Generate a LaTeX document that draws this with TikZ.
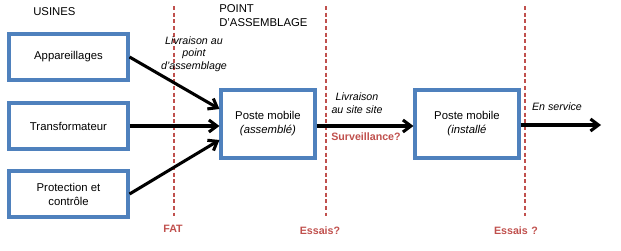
\documentclass[tikz,border=0pt]{standalone}
\usepackage{fontspec}
\setmainfont{Liberation Sans}
\usetikzlibrary{arrows.meta}
\definecolor{boxblue}{HTML}{4F81BD}
\definecolor{dashred}{HTML}{C0504D}
\begin{document}
\begin{tikzpicture}[x=0.75pt,y=-0.75pt,
  box/.style={draw=boxblue,line width=2.3pt,minimum width=119*0.75pt,minimum height=46*0.75pt,align=center,font=\fontsize{8.5pt}{10.5pt}\selectfont,inner sep=0pt},
  pbox/.style={draw=boxblue,line width=2.3pt,minimum width=94*0.75pt,minimum height=68*0.75pt,align=center,font=\fontsize{8.5pt}{10.5pt}\selectfont,inner sep=0pt},
  sep/.style={draw=dashred,line width=1.3pt,dash pattern=on 3pt off 2pt},
  flow/.style={line width=2.3pt,-{Straight Barb[length=6pt,width=9pt,line width=2.3pt]}},
  lbl/.style={font=\fontsize{8.5pt}{10.5pt}\selectfont,align=center,inner sep=0pt},
  ilbl/.style={font=\fontsize{8pt}{9.5pt}\selectfont\itshape,align=center,inner sep=0pt},
  rlbl/.style={font=\fontsize{8pt}{10pt}\selectfont\bfseries,text=dashred,inner sep=0pt}]
\useasboundingbox (0,0) rectangle (621,250);
% dashed separators
\coordinate (s1t) at (174,6); \coordinate (s1b) at (174,216);
\coordinate (s2t) at (326,6); \coordinate (s2b) at (326,216);
\coordinate (s3t) at (525,6); \coordinate (s3b) at (525,216);
\draw[sep] (s1t) -- (s1b);
\draw[sep] (s2t) -- (s2b);
\draw[sep] (s3t) -- (s3b);
% boxes
\node[box] (app) at (68.5,57) {Appareillages};
\node[box] (tra) at (68.5,126) {Transformateur};
\node[box] (pro) at (68.5,194) {Protection et\\contrôle};
\node[pbox] (pm1) at (268,124) {Poste mobile\\\textit{(assemblé)}};
\node[pbox,minimum width=104*0.75pt] (pm2) at (467,124) {Poste mobile\\\textit{(installé}};
\coordinate (end) at (601,125);
% arrows
\draw[flow] (app.east) -- (pm1.west |- 0,109);
\draw[flow] (tra.east) -- (pm1.west |- tra.east);
\draw[flow] (pro.east) -- (pm1.west |- 0,140);
\draw[flow] (pm1.east |- 0,126) -- (pm2.west |- 0,126);
\draw[flow] (pm2.east |- 0,125) -- (end);
% labels
\node[lbl,anchor=west] (usines) at (33,12) {USINES};
\node[lbl,anchor=north west,align=left] (pa) at (219,4) {POINT\\D'ASSEMBLAGE};
\node[ilbl] (liv1) at (194,54) {Livraison au\\point\\d'assemblage};
\node[ilbl] (liv2) at (357,103) {Livraison\\au site site};
\node[ilbl] (ens) at (557,107) {En service};
\node[rlbl] (sur) at (366,137) {Surveillance?};
\node[rlbl] (fat) at (173,229) {FAT};
\node[rlbl] (es1) at (320,231) {Essais?};
\node[rlbl] (es2) at (516,231) {Essais\,\,?};
\end{tikzpicture}
\end{document}
